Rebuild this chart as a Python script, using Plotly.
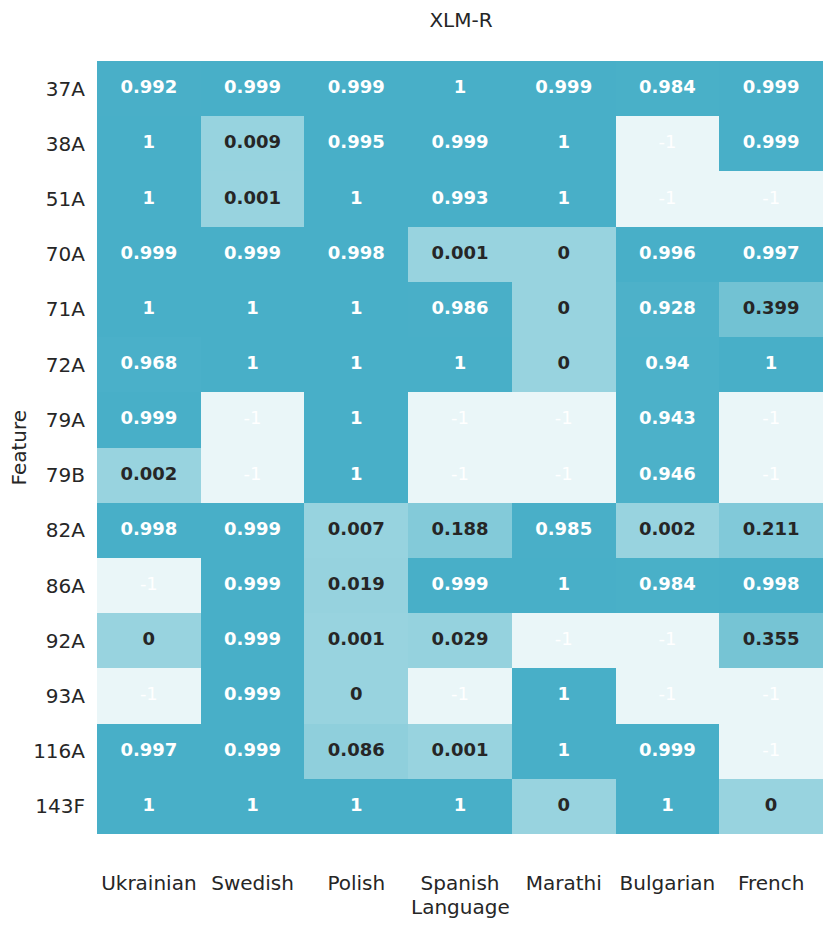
import plotly.graph_objects as go

features = ["37A", "38A", "51A", "70A", "71A", "72A", "79A", "79B", "82A", "86A", "92A", "93A", "116A", "143F"]
languages = ["Ukrainian", "Swedish", "Polish", "Spanish", "Marathi", "Bulgarian", "French"]

row_37A = [0.992, 0.999, 0.999, 1, 0.999, 0.984, 0.999]
row_38A = [1, 0.009, 0.995, 0.999, 1, -1, 0.999]
row_51A = [1, 0.001, 1, 0.993, 1, -1, -1]
row_70A = [0.999, 0.999, 0.998, 0.001, 0, 0.996, 0.997]
row_71A = [1, 1, 1, 0.986, 0, 0.928, 0.399]
row_72A = [0.968, 1, 1, 1, 0, 0.94, 1]
row_79A = [0.999, -1, 1, -1, -1, 0.943, -1]
row_79B = [0.002, -1, 1, -1, -1, 0.946, -1]
row_82A = [0.998, 0.999, 0.007, 0.188, 0.985, 0.002, 0.211]
row_86A = [-1, 0.999, 0.019, 0.999, 1, 0.984, 0.998]
row_92A = [0, 0.999, 0.001, 0.029, -1, -1, 0.355]
row_93A = [-1, 0.999, 0, -1, 1, -1, -1]
row_116A = [0.997, 0.999, 0.086, 0.001, 1, 0.999, -1]
row_143F = [1, 1, 1, 1, 0, 1, 0]

z = [row_37A, row_38A, row_51A, row_70A, row_71A, row_72A, row_79A, row_79B,
     row_82A, row_86A, row_92A, row_93A, row_116A, row_143F]

colorscale = [
    [0.0, "#eaf6f8"],
    [0.5, "#98d3df"],
    [0.6, "#82c9d9"],
    [0.7, "#72c2d3"],
    [1.0, "#48afc8"],
]

fig = go.Figure()
fig.add_trace(go.Heatmap(
    z=z, x=languages, y=features, zmin=-1, zmax=1,
    colorscale=colorscale, showscale=False, hoverinfo="skip",
))

# annotations: bold for valid scores, regular for missing (-1)
bx, by, bt, bc = [], [], [], []
mx, my, mt = [], [], []
for f, row in zip(features, z):
    for lang, v in zip(languages, row):
        if v < 0:
            mx.append(lang)
            my.append(f)
            mt.append(f"{v:g}")
        else:
            bx.append(lang)
            by.append(f)
            bt.append(f"{v:g}")
            bc.append("#ffffff" if v > 0.6 else "#262626")

fig.add_trace(go.Scatter(
    x=bx, y=by, mode="text", text=bt,
    textfont=dict(family="DejaVu Sans", size=18, color=bc, weight="bold"),
    hoverinfo="skip", showlegend=False,
))
fig.add_trace(go.Scatter(
    x=mx, y=my, mode="text", text=mt,
    textfont=dict(family="DejaVu Sans", size=18, color="#ffffff"),
    hoverinfo="skip", showlegend=False,
))

n_x = len(languages)
n_y = len(features)
W, H = 823, 919

fig.update_layout(
    width=W, height=H,
    margin=dict(l=89, r=8, t=53, b=93),
    paper_bgcolor="white", plot_bgcolor="white",
    font=dict(family="DejaVu Sans", size=20, color="#262626"),
    title=dict(text="XLM-R", x=453 / W, xanchor="center", y=1 - 12 / H, yanchor="middle",
               yref="container", font=dict(size=20, color="#262626")),
    showlegend=False,
    xaxis=dict(showgrid=False, zeroline=False, ticks="", ticklabelstandoff=35, automargin=False,
               range=[-0.5, n_x - 0.5],
               tickfont=dict(size=20, color="#262626"), showline=False),
    yaxis=dict(showgrid=False, zeroline=False, ticks="", automargin=False,
               range=[n_y - 0.5, -0.5],
               ticklabelstandoff=11, tickfont=dict(size=20, color="#262626"), showline=False),
    annotations=[
        dict(text="Language", xref="paper", yref="paper", x=0.5, y=0, xanchor="center",
             yanchor="top", yshift=-59, showarrow=False, font=dict(size=20, color="#262626")),
        dict(text="Feature", xref="paper", yref="paper", x=0, y=0.5, xanchor="center",
             yanchor="middle", xshift=-79, textangle=-90, showarrow=False,
             font=dict(size=20, color="#262626")),
    ],
)

fig.write_html("out.html")
